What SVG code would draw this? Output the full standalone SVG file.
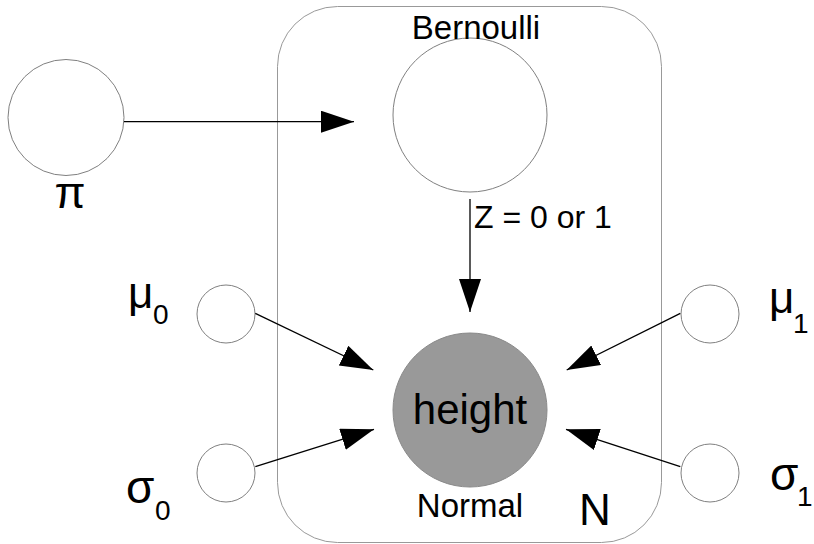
<svg xmlns="http://www.w3.org/2000/svg" width="814" height="544" viewBox="0 0 814 544">
<defs>
<marker id="ah" markerUnits="userSpaceOnUse" markerWidth="34" markerHeight="24" refX="33" refY="11" orient="auto" viewBox="0 0 34 24">
<path d="M0,0 L33,11 L0,22 z" fill="#000"/>
</marker>
<style>
text{font-family:"Liberation Sans",Arial,sans-serif;fill:#000}
.node{fill:#fff;stroke:#808080;stroke-width:1}
.edge{stroke:#000;stroke-width:1.3;fill:none;marker-end:url(#ah)}
</style>
</defs>
<rect width="814" height="544" fill="#fff"/>
<g id="plate">
<rect x="277.5" y="6.5" width="384" height="536" rx="60" ry="60" fill="none" stroke="#999" stroke-width="1"/>
<text x="579" y="525" font-size="44">N</text>
</g>
<g id="pi">
<circle class="node" cx="66" cy="117.5" r="58"/>
<text x="70" y="208" font-size="45" text-anchor="middle">π</text>
</g>
<g id="bernoulli">
<circle class="node" cx="470" cy="115" r="77"/>
<text x="476" y="39" font-size="33" text-anchor="middle">Bernoulli</text>
</g>
<g id="height">
<circle cx="470" cy="410" r="77" fill="#999" stroke="#8a8a8a" stroke-width="1"/>
<text x="470" y="424" font-size="42" text-anchor="middle">height</text>
<text x="470" y="517" font-size="33" text-anchor="middle">Normal</text>
</g>
<g id="mu0">
<circle class="node" cx="226" cy="314" r="29"/>
<text x="128" y="308" font-size="44">μ</text>
<text x="153" y="324" font-size="28">0</text>
</g>
<g id="sigma0">
<circle class="node" cx="226" cy="473" r="29"/>
<text x="126" y="503" font-size="46">σ</text>
<text x="155" y="520" font-size="28">0</text>
</g>
<g id="mu1">
<circle class="node" cx="710" cy="314" r="29"/>
<text x="769" y="313" font-size="44">μ</text>
<text x="793" y="333" font-size="28">1</text>
</g>
<g id="sigma1">
<circle class="node" cx="710" cy="473" r="29"/>
<text x="770" y="490" font-size="46">σ</text>
<text x="797" y="506" font-size="28">1</text>
</g>
<g id="connectors">
<line class="edge" x1="124" y1="121.7" x2="354" y2="121.7"/>
<line class="edge" x1="470" y1="199" x2="470" y2="312"/>
<line class="edge" x1="255.3" y1="313.3" x2="373.3" y2="370"/>
<line class="edge" x1="255.3" y1="466.7" x2="374" y2="429.3"/>
<line class="edge" x1="680.3" y1="313.3" x2="566.7" y2="370"/>
<line class="edge" x1="680.3" y1="466.7" x2="566" y2="429.3"/>
<text x="474" y="228" font-size="32">Z = 0 or 1</text>
</g>
</svg>
